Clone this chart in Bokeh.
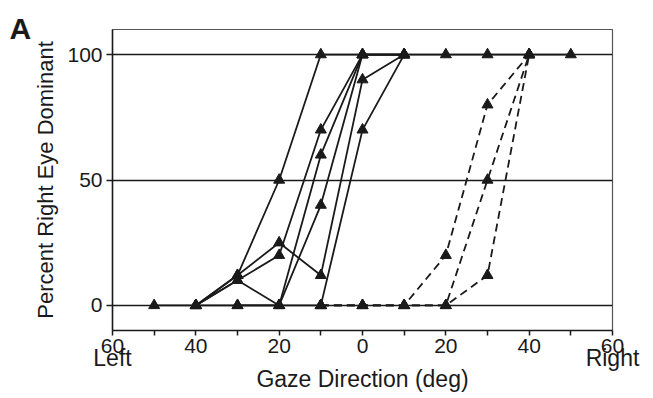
from bokeh.plotting import figure
from bokeh.models import Range1d, FixedTicker, LinearAxis
from bokeh.embed import file_html
from bokeh.resources import INLINE

# ---- data (gaze direction in deg: negative = left, positive = right) ----
gaze_a = [-40, -30, -20, -10, 0, 10, 20, 30, 40, 50]
pct_a = [0, 12, 50, 100, 100, 100, 100, 100, 100, 100]
gaze_b = [-40, -30, -20, -10, 0, 10]
pct_b = [0, 12, 25, 12, 90, 100]
gaze_c = [-40, -30, -20, -10, 0, 10]
pct_c = [0, 10, 20, 70, 100, 100]
gaze_d = [-40, -30, -20, -10, 0, 10]
pct_d = [0, 10, 0, 60, 100, 100]
gaze_e = [-50, -40, -30, -20, -10, 0, 10]
pct_e = [0, 0, 0, 0, 40, 100, 100]
gaze_f = [-30, -20, -10, 0, 10]
pct_f = [0, 0, 0, 70, 100]

gaze_g = [-10, 0, 10, 20, 30, 40]
pct_g = [0, 0, 0, 20, 80, 100]
gaze_h = [-10, 0, 10, 20, 30, 40]
pct_h = [0, 0, 0, 0, 50, 100]
gaze_i = [-10, 0, 10, 20, 30, 40]
pct_i = [0, 0, 0, 0, 12, 100]

solid_series = [(gaze_a, pct_a), (gaze_b, pct_b), (gaze_c, pct_c),
                (gaze_d, pct_d), (gaze_e, pct_e), (gaze_f, pct_f)]
dashed_series = [(gaze_g, pct_g), (gaze_h, pct_h), (gaze_i, pct_i)]

x_tick_values = [-60, -50, -40, -30, -20, -10, 0, 10, 20, 30, 40, 50, 60]
x_tick_labels = ["60", "", "40", "", "20", "", "0", "", "20", "", "40", "", "60"]
side_tick_values = [-60, 60]
side_tick_labels = ["Left", "Right"]
y_tick_values = [0, 50, 100]

FONT = "Liberation Sans"
INK = "#1a1a1a"

p = figure(width=652, height=397, output_backend="svg", toolbar_location=None,
           x_range=Range1d(-60, 60), y_range=Range1d(-10, 110),
           min_border_left=112, min_border_right=40, min_border_top=29,
           min_border_bottom=67)

p.outline_line_color = "#555555"
p.outline_line_width = 1.2
p.background_fill_color = "white"
p.border_fill_color = "white"

# panel letter
p.title.text = "A"
p.title.align = "left"
p.title.offset = -103
p.title.standoff = -30
p.title.text_font = FONT
p.title.text_font_size = "30px"
p.title.text_font_style = "bold"
p.title.text_color = INK

# grid
p.xgrid.visible = False
p.ygrid.ticker = FixedTicker(ticks=y_tick_values)
p.ygrid.grid_line_color = INK
p.ygrid.grid_line_width = 1.5

# main x axis
xa = p.below[0]
xa.ticker = FixedTicker(ticks=x_tick_values)
xa.major_label_overrides = {v: l for v, l in zip(x_tick_values, x_tick_labels)}
xa.major_tick_out = 5
xa.major_tick_in = 0
xa.minor_tick_line_color = None
xa.major_label_standoff = 3

# y axis
ya = p.left[0]
ya.ticker = FixedTicker(ticks=y_tick_values)
ya.axis_label = "Percent Right Eye Dominant"
ya.axis_label_standoff = 6
ya.major_tick_out = 6
ya.major_tick_in = 0
ya.minor_tick_line_color = None
ya.major_label_standoff = 4

for ax in (xa, ya):
    ax.axis_line_color = INK
    ax.axis_line_width = 1.5
    ax.major_tick_line_color = INK
    ax.major_tick_line_width = 1.5
    ax.major_label_text_font = FONT
    ax.major_label_text_font_size = "21px"
    ax.major_label_text_color = INK
ya.axis_label_text_font = FONT
ya.axis_label_text_font_style = "normal"
ya.axis_label_text_color = INK
ya.axis_label_text_font_size = "22px"

# second row under the x axis: Left / Right and the axis title
side = LinearAxis(ticker=FixedTicker(ticks=side_tick_values),
                  major_label_overrides={v: l for v, l in zip(side_tick_values, side_tick_labels)})
side.axis_line_color = None
side.major_tick_line_color = None
side.minor_tick_line_color = None
side.major_tick_out = 0
side.major_tick_in = 0
side.major_label_standoff = -11
side.major_label_text_font = FONT
side.major_label_text_font_size = "23px"
side.major_label_text_color = INK
side.axis_label = "Gaze Direction (deg)"
side.axis_label_standoff = -8
side.axis_label_text_font = FONT
side.axis_label_text_font_style = "normal"
side.axis_label_text_font_size = "23px"
side.axis_label_text_color = INK
p.add_layout(side, "below")

for xs, ys in solid_series:
    p.line(xs, ys, line_color=INK, line_width=1.8)
for xs, ys in dashed_series:
    p.line(xs, ys, line_color=INK, line_width=1.8, line_dash="8 5")
for xs, ys in solid_series + dashed_series:
    p.scatter(xs, ys, marker="triangle", size=11, fill_color=INK, line_color=INK)

open("out.html", "w").write(file_html(p, INLINE))
